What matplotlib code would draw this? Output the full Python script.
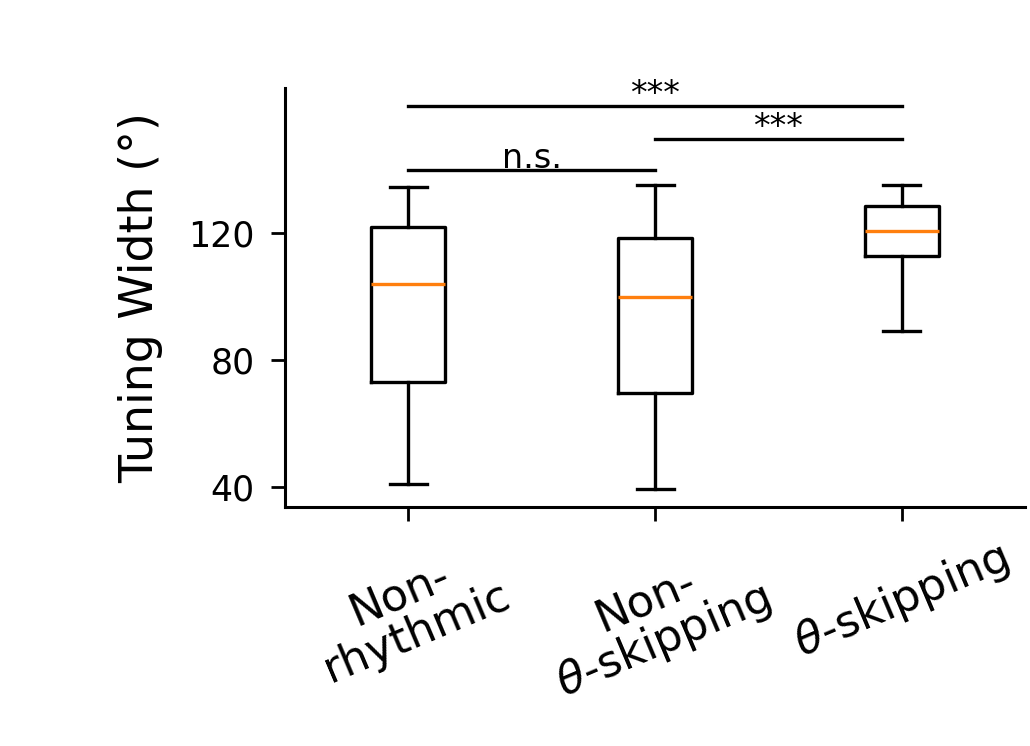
import matplotlib
matplotlib.use('Agg')
import matplotlib.pyplot as plt

categories = ['Non-\nrhythmic', 'Non-\n$\\theta$-skipping', '$\\theta$-skipping']
whislo = [41, 39.4, 89]
q1 = [73, 69.6, 112.8]
med = [104, 100, 120.6]
q3 = [122, 118.4, 128.5]
whishi = [134.5, 135, 135]

# significance bars: (left, right, height, label)
sig_pairs = [(1, 2, 139.8, 'n.s.'), (2, 3, 149.6, '***'), (1, 3, 160, '***')]

fig = plt.figure(figsize=(10.3, 7.46), dpi=100)
ax = fig.add_axes([285/1030, 1-507/746, 740/1030, 419/746])

stats = [dict(whislo=a, q1=b, med=c, q3=d, whishi=e, fliers=[])
         for a, b, c, d, e in zip(whislo, q1, med, q3, whishi)]
lw = 2.4
ax.bxp(stats, positions=[1, 2, 3], widths=0.3, showfliers=False,
       boxprops=dict(linewidth=lw, color='black'),
       whiskerprops=dict(linewidth=lw, color='black'),
       capprops=dict(linewidth=lw, color='black'),
       medianprops=dict(linewidth=lw, color='#ff7f0e'))

for x0, x1, y, lab in sig_pairs:
    ax.plot([x0, x1], [y, y], color='black', linewidth=lw)
    ax.text((x0 + x1) / 2, y - 1.5, lab, ha='center', va='bottom', fontsize=24)

ax.set_xlim(0.5, 3.5)
ax.set_ylim(33.7, 165.7)
ax.set_yticks([40, 80, 120])
ax.set_xticks([1, 2, 3])
ax.set_xticklabels(categories, rotation=23, ha='center', fontsize=32, linespacing=1.0)
ax.tick_params(axis='y', labelsize=25, width=2, length=10, pad=12)
ax.tick_params(axis='x', width=2, length=10, pad=10)
ax.set_ylabel('Tuning Width (°)', fontsize=33, labelpad=18)
for s in ['top', 'right']:
    ax.spines[s].set_visible(False)
for s in ['left', 'bottom']:
    ax.spines[s].set_linewidth(2.2)

fig.savefig('out.png', dpi=100)
